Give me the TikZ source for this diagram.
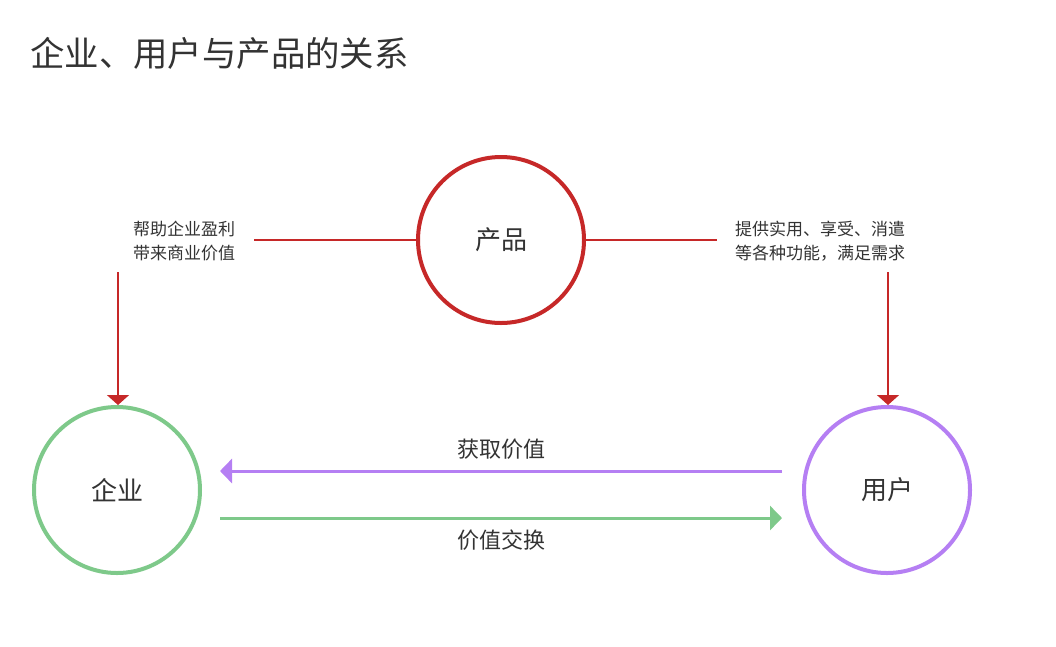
\documentclass[tikz,border=0pt]{standalone}
\usepackage{fontspec}
\setmainfont{Noto Sans CJK SC}
\usetikzlibrary{arrows.meta}
\definecolor{redc}{HTML}{C62828}
\definecolor{greenc}{HTML}{7EC98A}
\definecolor{purplec}{HTML}{B57FF3}
\definecolor{txt}{HTML}{333333}
\begin{document}
\begin{tikzpicture}[x=1pt,y=-1pt,
  ring/.style={circle,line width=4pt,minimum size=166pt,inner sep=0pt,text=txt,font=\fontsize{26}{30}\selectfont},
  side/.style={text=txt,font=\fontsize{17}{24}\selectfont,align=left,inner sep=0pt},
  albl/.style={text=txt,font=\fontsize{22}{26}\selectfont,inner sep=0pt},
  redline/.style={draw=redc,line width=1.6pt},
  redarrow/.style={redline,-{Triangle[width=22pt,length=10pt]}},
  bigarrow/.style={line width=3pt,-{Triangle[width=24pt,length=12pt]}}
]
\useasboundingbox (0,0) rectangle (1056,646);
\node[anchor=west,text=txt,font=\fontsize{34.4}{40}\selectfont,inner sep=0pt] (title) at (30,53) {企业、用户与产品的关系};

\node[ring,draw=redc] (prod) at (501,240) {产品};
\node[ring,draw=greenc] (ent) at (117,490) {企业};
\node[ring,draw=purplec] (user) at (887,490) {用户};

\node[side,anchor=west] (ltext) at (133,241) {帮助企业盈利\\带来商业价值};
\node[side,anchor=west] (rtext) at (735,241) {提供实用、享受、消遣\\等各种功能，满足需求};

\coordinate (lend) at (254,240);
\coordinate (rend) at (717,240);
\draw[redline] (lend) -- (prod.west);
\draw[redline] (prod.east) -- (rend);

\coordinate (ltop) at (118,272);
\coordinate (rtop) at (888,272);
\draw[redarrow] (ltop) -- (ltop |- ent.north);
\draw[redarrow] (rtop) -- (rtop |- user.north);

\coordinate (pstart) at (782,471);
\coordinate (pend) at (220,471);
\coordinate (gstart) at (220,518);
\coordinate (gend) at (782,518);
\draw[bigarrow,draw=purplec,fill=purplec] (pstart) -- (pend);
\draw[bigarrow,draw=greenc,fill=greenc] (gstart) -- (gend);

\node[albl] (get) at (501,449) {获取价值};
\node[albl] (exch) at (501,540) {价值交换};
\end{tikzpicture}
\end{document}
